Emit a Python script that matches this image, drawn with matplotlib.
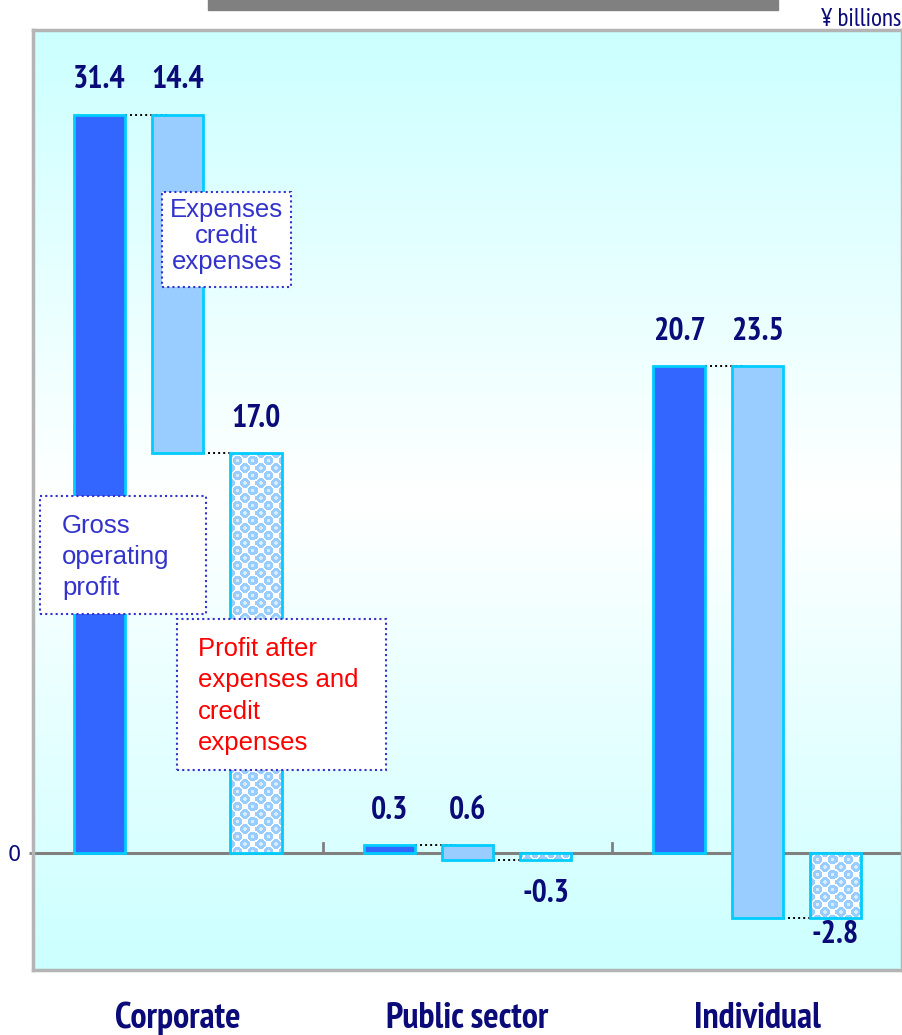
import numpy as np
import matplotlib
matplotlib.use("Agg")
import matplotlib.pyplot as plt
from matplotlib.colors import LinearSegmentedColormap, to_rgb
from matplotlib.patches import Rectangle

# values in ¥ billions
groups = ["Corporate", "Public sector", "Individual"]
gross = [31.4, 0.3, 20.7]
expenses = [14.4, 0.6, 23.5]
profit = [17.0, -0.3, -2.8]

navy = "#0A0A78"
narrow = ["PT Sans Narrow", "Barlow Semi Condensed", "DejaVu Sans"]

fig = plt.figure(figsize=(9.03, 10.35), dpi=100)
ax = fig.add_axes([0.0365, 0.0628, 0.9625, 0.9082])
ax.set_xlim(0, 9)
ax.set_ylim(-5, 35)

# cyan -> white -> cyan backdrop
cmap = LinearSegmentedColormap.from_list("bg", ["#CCFFFF", "#FFFFFF", "#CCFFFF"])
ax.imshow(np.linspace(0, 1, 256).reshape(-1, 1), cmap=cmap, aspect="auto",
          extent=[0, 9, -5, 35], zorder=0)

w = 0.53
off = 0.81
centers = np.arange(len(groups)) * 3 + 1.5
xg = centers - off
xe = centers
xp = centers + off


def bubbles(wpx, hpx, period=15.0, r=4.8):
    """white tile with staggered light-blue dots"""
    yy, xx = np.mgrid[0:hpx, 0:wpx] + 0.5
    d1 = np.hypot(xx % period - period / 2, yy % period - period / 2)
    d2 = np.hypot((xx + period / 2) % period - period / 2,
                  (yy + period / 2) % period - period / 2)
    d = np.minimum(d1, d2)
    img = np.ones((hpx, wpx, 3))
    img[d < r] = np.array(to_rgb("#99CCFF"))
    img[d < 1.6] = np.array(to_rgb("#D8ECFF"))
    return img


# gross operating profit
ax.bar(xg, gross, width=w, color="#3366FF", edgecolor="#00CCFF", linewidth=2, zorder=3)
# expenses: floating bar hanging from gross down to profit
ax.bar(xe, [-e for e in expenses], bottom=gross, width=w, color="#99CCFF",
       edgecolor="#00CCFF", linewidth=2, zorder=3)
# profit after expenses: bubble texture clipped to each bar
pbars = ax.bar(xp, profit, width=w, color="white", linewidth=0, zorder=3)
fig.canvas.draw()
for rect in pbars:
    bb = rect.get_window_extent()
    img = bubbles(max(int(round(bb.width)), 1), max(int(round(bb.height)), 1))
    x0, y0 = rect.get_x(), rect.get_y()
    x1, y1 = x0 + rect.get_width(), y0 + rect.get_height()
    im = ax.imshow(img, extent=[x0, x1, min(y0, y1), max(y0, y1)], aspect="auto",
                   interpolation="nearest", zorder=3.5)
    im.set_clip_path(rect)
ax.bar(xp, profit, width=w, fill=False, edgecolor="#00CCFF", linewidth=2, zorder=4)
ax.set_xlim(0, 9)
ax.set_ylim(-5, 35)

# dotted connectors between steps
for i in range(len(groups)):
    ax.plot([xg[i] + w / 2, xe[i] - w / 2 + 0.15], [gross[i], gross[i]], color="black",
            ls=(0, (1, 1.6)), lw=1.4, zorder=2)
    ax.plot([xe[i] + w / 2, xp[i] - w / 2], [profit[i], profit[i]], color="black",
            ls=(0, (1, 1.6)), lw=1.4, zorder=2)

# zero line and group separators
ax.axhline(0, color="#808080", lw=2.2, zorder=2)
for b in [3, 6]:
    ax.plot([b, b], [0, 0.4], color="#808080", lw=2, zorder=2)

# value labels
lab = dict(ha="center", fontsize=23, fontweight="bold", color=navy, family=narrow,
           zorder=6)
for i in range(len(groups)):
    ax.annotate(f"{gross[i]:.1f}", (xg[i], gross[i]), xytext=(0, 14),
                textcoords="offset points", va="bottom", **lab)
    ax.annotate(f"{expenses[i]:.1f}", (xe[i], gross[i]), xytext=(0, 14),
                textcoords="offset points", va="bottom", **lab)
    if profit[i] >= 0:
        ax.annotate(f"{profit[i]:.1f}", (xp[i], profit[i]), xytext=(0, 14),
                    textcoords="offset points", va="bottom", **lab)
    else:
        dy = -14 if profit[i] > -1 else -1
        ax.annotate(f"{profit[i]:.1f}", (xp[i], profit[i]), xytext=(0, dy),
                    textcoords="offset points", va="top", **lab)

# explanatory boxes
boxes = [
    ((0.148, 0.7266), 0.149, 0.101, "Expenses\ncredit\nexpenses", 0.223, 0.781, "center", "#3333CC", 1.1),
    ((0.008, 0.3787), 0.191, 0.1255, "Gross\noperating\nprofit", 0.0333, 0.4394, "left", "#3333CC", 1.38),
    ((0.1655, 0.2128), 0.2402, 0.1606, "Profit after\nexpenses and\ncredit\nexpenses", 0.1897, 0.2915, "left", "#FF0000", 1.38),
]
for (x0, y0), bw, bh, txt, tx, ty, ha, col, lsp in boxes:
    ax.add_patch(Rectangle((x0, y0), bw, bh, transform=ax.transAxes, facecolor="white",
                           edgecolor="#3333CC", ls=(0, (1, 1.5)), lw=1.5, zorder=7))
    ax.text(tx, ty, txt, transform=ax.transAxes, ha=ha, va="center", fontsize=18.5,
            color=col, family="Liberation Sans", linespacing=lsp, zorder=8)

ax.set_xticks([])
ax.set_yticks([0])
ax.set_yticklabels(["0"], fontsize=15, color=navy)
ax.tick_params(axis="y", length=3, width=2, color="#808080", pad=6)
for s in ax.spines.values():
    s.set_color("#B4B4B4")
    s.set_linewidth(2.5)

# category labels below the frame
for c, g in zip(centers, groups):
    ax.text(c, -7.45, g, ha="center", va="baseline", fontsize=26, fontweight="bold",
            color=navy, family=narrow, clip_on=False)

fig.text(0.998, 0.981, "¥ billions", ha="right", va="center", fontsize=18,
         color=navy, family=narrow)
# header strip
fig.add_artist(Rectangle((208 / 903, 1 - 10 / 1035), 570 / 903, 10 / 1035,
                         transform=fig.transFigure, color="#808080"))

fig.savefig("out.png", dpi=100)
